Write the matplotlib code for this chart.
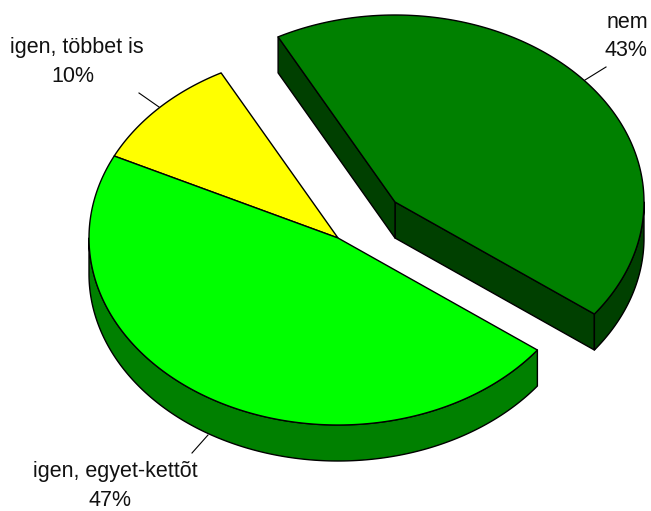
import numpy as np
from matplotlib import pyplot as plt
from matplotlib.patches import Polygon

# Data
labels = ["igen, többet is", "igen, egyet-kettõt", "nem"]
values = [10, 47, 43]
top_colors = ["#ffff00", "#00ff00", "#008000"]
side_colors = ["#808000", "#008000", "#004000"]
exploded = [False, False, True]
start_angle = 118

# Pie geometry in pixels
cx, cy = 338, 238
rx, ry = 249, 187
depth = 36
explode_dx, explode_dy = 57, -36
line_w = 1.0


def arc(x0, y0, a0, a1):
    t = np.radians(np.linspace(a0, a1, 200))
    return np.column_stack([x0 + rx * np.cos(t), y0 - ry * np.sin(t)])


def shift_down(pts):
    return pts + np.array([0, depth])


def draw_poly(ax, pts, color, z):
    ax.add_patch(Polygon(pts, closed=True, facecolor=color, edgecolor="black",
                         linewidth=line_w, joinstyle="round", zorder=z))


fig = plt.figure(figsize=(6.51, 5.11), dpi=100)
ax = fig.add_axes([0, 0, 1, 1])
ax.set_xlim(0, 651)
ax.set_ylim(511, 0)
ax.axis("off")

# Slices, going counterclockwise from the start angle
angle = start_angle
for i in range(len(values)):
    a0 = angle
    a1 = angle + values[i] * 3.6
    angle = a1
    x0 = cx + (explode_dx if exploded[i] else 0)
    y0 = cy + (explode_dy if exploded[i] else 0)
    z = 3 if exploded[i] else 1

    # cut faces only show on the exploded slice
    if exploded[i]:
        for a in (a0, a1):
            edge = np.array([[x0, y0], arc(x0, y0, a, a + 1)[0]])
            face = np.vstack([edge, shift_down(edge)[::-1]])
            draw_poly(ax, face, side_colors[i], z)

    # outer wall, only the part on the front half of the ellipse
    for k in (0, 360):
        w0 = max(a0, 180 + k)
        w1 = min(a1, 360 + k)
        if w1 > w0:
            top = arc(x0, y0, w0, w1)
            draw_poly(ax, np.vstack([top, shift_down(top)[::-1]]), side_colors[i], z)

    # top of the slice
    draw_poly(ax, np.vstack([[x0, y0], arc(x0, y0, a0, a1)]), top_colors[i], z + 1)

# Labels with leader lines
text_kw = dict(family="Liberation Sans", fontsize=15.5, ha="center", va="center",
               color="#111111", zorder=6)
ax.plot([606, 585], [67, 80], color="black", lw=0.8, zorder=6)
ax.plot([139, 159], [93, 107], color="black", lw=0.8, zorder=6)
ax.plot([208, 192], [435, 453], color="black", lw=0.8, zorder=6)

ax.text(627, 22, labels[2], **text_kw)
ax.text(626, 50, f"{values[2]}%", **text_kw)
ax.text(77, 47, labels[0], **text_kw)
ax.text(73, 77, f"{values[0]}%", **text_kw)
ax.text(115, 471, labels[1], **text_kw)
ax.text(110, 500, f"{values[1]}%", **text_kw)

fig.savefig("out.png", dpi=100)
